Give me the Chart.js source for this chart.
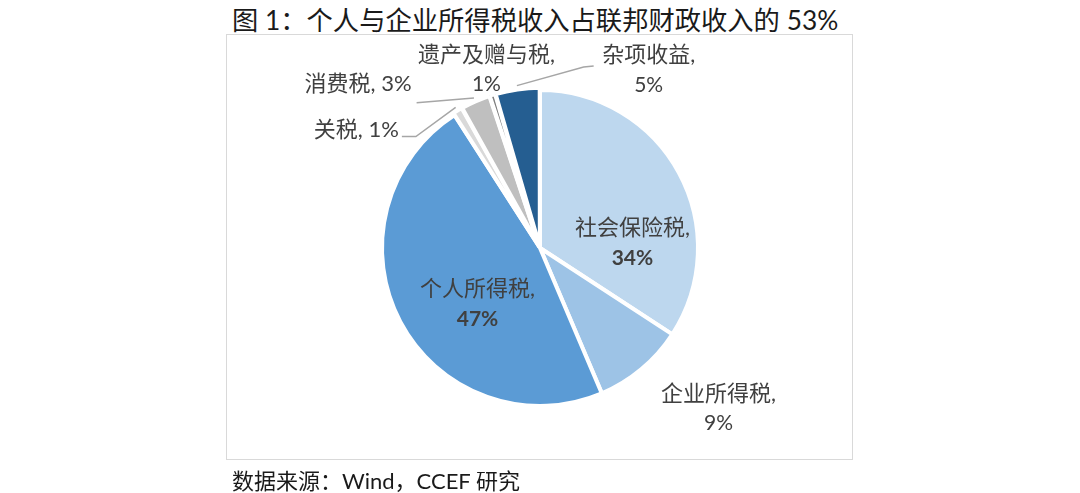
<!DOCTYPE html>
<html>
<head>
<meta charset="utf-8">
<script src="https://cdn.jsdelivr.net/npm/chart.js@4.4.1/dist/chart.umd.min.js"></script>
<style>
body { margin: 0; background: #fff; }
#wrap { position: relative; width: 1080px; height: 493px; overflow: hidden; background: #fff; }
#title { position: absolute; left: 232px; top: -1px; font-size: 26.3px; font-family: Lato, "Noto Sans CJK SC", sans-serif; color: #1a1a1a; white-space: nowrap; }
#box { position: absolute; left: 226px; top: 34px; width: 627px; height: 426px; border: 1.5px solid #d9d9d9; box-sizing: border-box; }
#src { position: absolute; left: 232px; top: 463px; font-size: 22px; font-family: Lato, "Noto Sans CJK SC", sans-serif; color: #1a1a1a; white-space: nowrap; }
#chart { position: absolute; left: 0; top: 0; }
</style>
</head>
<body>
<div id="wrap">
  <div id="title">图 1：个人与企业所得税收入占联邦财政收入的 53%</div>
  <div id="box"></div>
  <canvas id="chart" width="1080" height="493"></canvas>
  <div id="src">数据来源：Wind，CCEF 研究</div>
</div>
<script>
// data (percent of federal revenue)
var categories = ["社会保险税", "企业所得税", "个人所得税", "关税", "消费税", "遗产及赠与税", "杂项收益"];
var shares = [34.2, 9.4, 47.3, 1.0, 3.0, 0.6, 4.5];
var colors = ["#BDD7EE", "#9DC3E6", "#5B9BD5", "#D9D9D9", "#BFBFBF", "#7F7F7F", "#255E91"];

// label placement: [degrees clockwise from top, distance as share of radius, align, two lines?]
var labelPos = [
  [87, 0.586, "center", true],
  [132, 1.52, "center", true],
  [228, 0.532, "center", true],
  [310, 1.166, "right", false],
  [322, 1.32, "right", false],
  [343.3, 1.18, "center", true],
  [31.4, 1.32, "center", true]
];
// leader points relative to label anchor (null = no leader)
var leaders = [null, null, null, [[17, 7], [3, 7]], [[5, 19]], null, [[-65, -3], [-55, -4]]];

var total = shares.reduce(function(a, b) { return a + b; }, 0);

var pieLabels = {
  id: "pieLabels",
  afterDatasetsDraw: function(chart) {
    var ctx = chart.ctx;
    var meta = chart.getDatasetMeta(0);
    var R = meta.data[0].outerRadius;
    meta.data.forEach(function(arc, i) {
      var p = labelPos[i];
      var th = p[0] * Math.PI / 180;
      var ax = arc.x + Math.sin(th) * p[1] * R;
      var ay = arc.y - Math.cos(th) * p[1] * R;
      var pct = Math.round(shares[i] / total * 100) + "%";
      var inside = p[1] < 1;

      if (leaders[i]) {
        var mid = (arc.startAngle + arc.endAngle) / 2;
        var off = arc.options.offset || 0;
        ctx.save();
        ctx.strokeStyle = "#a6a6a6";
        ctx.lineWidth = 1.5;
        ctx.beginPath();
        ctx.moveTo(arc.x + Math.cos(mid) * (arc.outerRadius + off + 1), arc.y + Math.sin(mid) * (arc.outerRadius + off + 1));
        leaders[i].forEach(function(pt) { ctx.lineTo(ax + pt[0], ay + pt[1]); });
        ctx.stroke();
        ctx.restore();
      }

      ctx.save();
      ctx.fillStyle = "#404040";
      ctx.textAlign = p[2];
      ctx.textBaseline = "middle";
      ctx.font = "22px Lato, 'Noto Sans CJK SC'";
      if (p[3]) {
        ctx.fillText(categories[i] + ",", ax, ay - 15);
        ctx.font = (inside ? "bold " : "") + "21px Lato, 'Noto Sans CJK SC'";
        ctx.fillText(pct, ax, ay + 15);
      } else {
        ctx.fillText(categories[i] + ", " + pct, ax, ay);
      }
      ctx.restore();
    });
  }
};

new Chart(document.getElementById("chart"), {
  type: "pie",
  data: {
    labels: categories,
    datasets: [{
      data: shares,
      backgroundColor: colors,
      borderColor: "#ffffff",
      borderWidth: 4,
      offset: [0, 0, 0, 5, 5, 5, 5]
    }]
  },
  options: {
    responsive: false,
    animation: false,
    radius: 158,
    layout: { padding: { top: 3, bottom: 0, left: 0, right: 0 } },
    plugins: {
      legend: { display: false },
      tooltip: { enabled: false },
      title: { display: false }
    }
  },
  plugins: [pieLabels]
});
</script>
</body>
</html>
